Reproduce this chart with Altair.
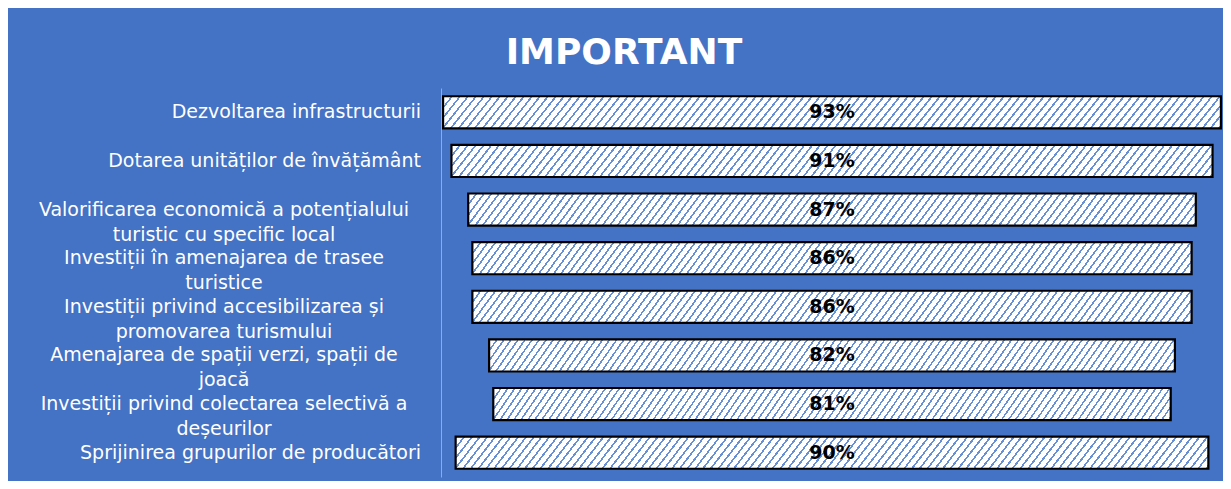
import altair as alt
import pandas as pd

categories = [
    "Dezvoltarea infrastructurii",
    "Dotarea unităților de învățământ",
    "Valorificarea economică a potențialului\nturistic cu specific local",
    "Investiții în amenajarea de trasee\nturistice",
    "Investiții privind accesibilizarea și\npromovarea turismului",
    "Amenajarea de spații verzi, spații de\njoacă",
    "Investiții privind colectarea selectivă a\ndeșeurilor",
    "Sprijinirea grupurilor de producători",
]
values = [93, 91, 87, 86, 86, 82, 81, 90]

df = pd.DataFrame({"cat": categories, "value": values})
df["multi"] = df["cat"].str.contains("\n")

BG = "#4472C4"
STRIPE = "#6990d4"

# hatch pattern built as a striped linear gradient (style only)
W, H = 778.0, 32.0
tan_a = 1.25
k = H / (tan_a * W)
a = 1 + k
period_px = 8.0
pt = period_px / (W * a * (1 + k * k))
frac = 0.27
stops = []
i = 0
while i * pt < 1:
    o0 = i * pt
    o1 = min((i + frac) * pt, 1)
    o2 = min((i + 1) * pt, 1)
    stops.append({"offset": o0, "color": STRIPE})
    stops.append({"offset": o1, "color": STRIPE})
    stops.append({"offset": o1, "color": "#ffffff"})
    stops.append({"offset": o2, "color": "#ffffff"})
    i += 1
hatch = {"gradient": "linear", "x1": 0, "y1": 0, "x2": a, "y2": a * k, "stops": stops}

yenc = alt.Y("cat:N", sort=None,
             scale=alt.Scale(paddingInner=0.34, paddingOuter=0.17),
             axis=alt.Axis(labels=False, ticks=False, title=None, grid=False,
                           domainColor="#8faadc", domainWidth=1))
xscale = alt.Scale(domain=[-46.75, 46.75], nice=False, zero=False)

base = alt.Chart(df).transform_calculate(
    lo="-datum.value/2", hi="datum.value/2", lbl="datum.value + '%'"
)

bars = base.mark_bar(fill=hatch, stroke="black", strokeWidth=2.2).encode(
    y=yenc,
    x=alt.X("lo:Q", scale=xscale, axis=None),
    x2="hi:Q",
)

pct = base.mark_text(font="DejaVu Sans", fontSize=19, fontWeight="bold",
                     color="black", baseline="middle").encode(
    y=alt.Y("cat:N", sort=None),
    x=alt.datum(0),
    text="lbl:N",
)

single = base.transform_filter("!datum.multi").mark_text(
    font="DejaVu Sans", fontSize=19, color="white", align="right",
    baseline="middle").encode(
    y=alt.Y("cat:N", sort=None),
    x=alt.value(-20),
    text="cat:N",
)

multi = base.transform_filter("datum.multi").mark_text(
    font="DejaVu Sans", fontSize=19, color="white", align="center",
    baseline="middle", lineBreak="\n", lineHeight=25).encode(
    y=alt.Y("cat:N", sort=None),
    x=alt.value(-217),
    text="cat:N",
)

chart = alt.layer(bars, pct, single, multi).properties(
    width=782,
    height=389,
    title=alt.TitleParams("IMPORTANT", color="white", font="DejaVu Sans",
                          fontSize=36, fontWeight="bold", anchor="middle",
                          dx=-208, offset=16),
    background=BG,
    padding={"left": 433, "top": 80, "right": 0, "bottom": 4},
    autosize=alt.AutoSizeParams(type="none"),
).configure_view(stroke=None)

chart.save("out.html", embed_options={"renderer": "svg", "actions": False})
